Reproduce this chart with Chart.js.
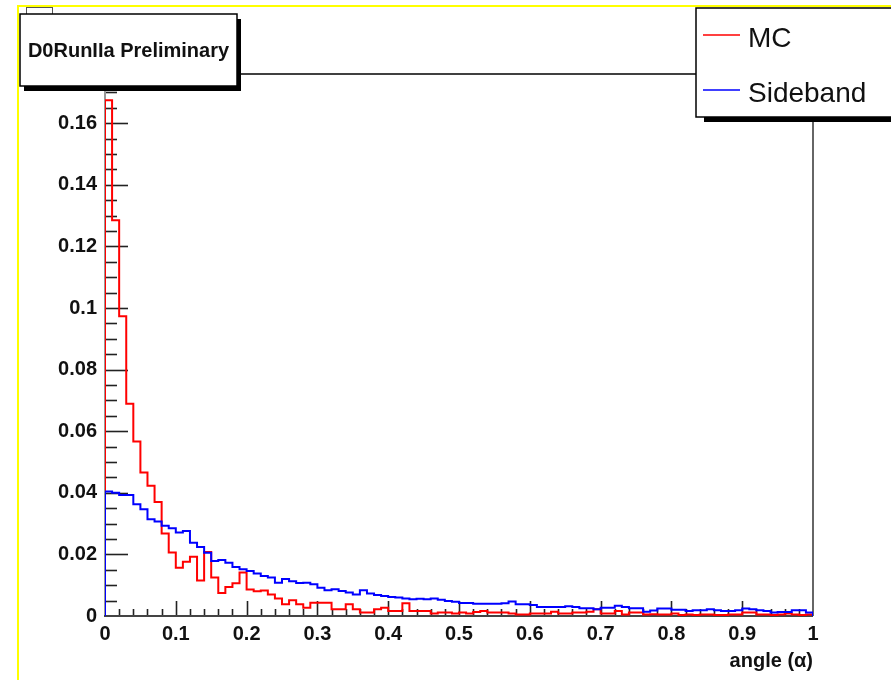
<!DOCTYPE html>
<html>
<head>
<meta charset="utf-8">
<title>angle (α) – MC vs Sideband</title>
<script src="https://cdn.jsdelivr.net/npm/chart.js@4.4.1/dist/chart.umd.min.js"></script>
<style>
  html, body { margin: 0; padding: 0; background: #fff; }
  #wrap { width: 891px; height: 680px; }
</style>
</head>
<body>
<div id="wrap"><canvas id="angleChart" width="891" height="680"></canvas></div>
<script>
// Histogram binning: 100 bins over [0, 1]
const xMin = 0, xMax = 1, binWidth = 0.01;
const yMax = 0.176;

// MC (red), one value per bin
const mcValues = [
  0.1675, 0.1285, 0.0973, 0.0689, 0.0567, 0.0466, 0.0423, 0.0370, 0.0268, 0.0206,
  0.0157, 0.0176, 0.0192, 0.0115, 0.0208, 0.0125, 0.0075, 0.0094, 0.0106, 0.0141,
  0.0086, 0.0080, 0.0083, 0.0070, 0.0057, 0.0038, 0.0051, 0.0038, 0.0027, 0.0043,
  0.0043, 0.0043, 0.0022, 0.0022, 0.0038, 0.0022, 0.0011, 0.0011, 0.0022, 0.0027,
  0.0016, 0.0016, 0.0041, 0.0016, 0.0016, 0.0016, 0.0008, 0.0011, 0.0011, 0.0008,
  0.0011, 0.0008, 0.0013, 0.0016, 0.0011, 0.0011, 0.0011, 0.0008, 0.0005, 0.0005,
  0.0008, 0.0008, 0.0008, 0.0014, 0.0008, 0.0008, 0.0011, 0.0011, 0.0014, 0.0022,
  0.0008, 0.0008, 0.0016, 0.0005, 0.0011, 0.0011, 0.0005, 0.0006, 0.0005, 0.0005,
  0.0008, 0.0003, 0.0005, 0.0003, 0.0005, 0.0005, 0.0003, 0.0003, 0.0005, 0.0005,
  0.0011, 0.0011, 0.0005, 0.0005, 0.0003, 0.0005, 0.0008, 0.0005, 0.0003, 0.0005
];

// Sideband (blue), one value per bin
const sidebandValues = [
  0.0404, 0.0400, 0.0393, 0.0393, 0.0363, 0.0347, 0.0314, 0.0307, 0.0293, 0.0285,
  0.0271, 0.0276, 0.0238, 0.0224, 0.0205, 0.0179, 0.0182, 0.0173, 0.0159, 0.0152,
  0.0146, 0.0138, 0.0130, 0.0125, 0.0108, 0.0120, 0.0113, 0.0107, 0.0108, 0.0103,
  0.0092, 0.0084, 0.0087, 0.0081, 0.0076, 0.0070, 0.0084, 0.0073, 0.0068, 0.0065,
  0.0062, 0.0060, 0.0057, 0.0054, 0.0056, 0.0054, 0.0057, 0.0053, 0.0049, 0.0046,
  0.0042, 0.0042, 0.0040, 0.0040, 0.0040, 0.0040, 0.0041, 0.0047, 0.0038, 0.0038,
  0.0036, 0.0029, 0.0029, 0.0029, 0.0029, 0.0032, 0.0029, 0.0025, 0.0025, 0.0022,
  0.0027, 0.0027, 0.0033, 0.0029, 0.0025, 0.0025, 0.0014, 0.0018, 0.0024, 0.0024,
  0.0020, 0.0020, 0.0016, 0.0019, 0.0019, 0.0022, 0.0019, 0.0016, 0.0016, 0.0019,
  0.0024, 0.0022, 0.0019, 0.0016, 0.0011, 0.0013, 0.0013, 0.0019, 0.0019, 0.0011
];

// Axis tick labels
const xTickValues = [0, 0.1, 0.2, 0.3, 0.4, 0.5, 0.6, 0.7, 0.8, 0.9, 1];
const xTickLabels = ['0', '0.1', '0.2', '0.3', '0.4', '0.5', '0.6', '0.7', '0.8', '0.9', '1'];
const yTickValues = [0, 0.02, 0.04, 0.06, 0.08, 0.1, 0.12, 0.14, 0.16];
const yTickLabels = ['0', '0.02', '0.04', '0.06', '0.08', '0.1', '0.12', '0.14', '0.16'];

const seriesNames = ['MC', 'Sideband'];
const seriesColors = ['#ff0000', '#0000ff'];
const boxTitle = 'D0RunIIa Preliminary';
const xTitle = 'angle (α)';

// turn bin contents into step points (left edges + closing edge)
function histPoints(values) {
  const pts = [{ x: xMin, y: 0 }];
  values.forEach((v, i) => pts.push({ x: xMin + i * binWidth, y: v }));
  pts.push({ x: xMax, y: values[values.length - 1] });
  pts.push({ x: xMax, y: 0 });
  return pts;
}

Chart.defaults.font.family = "'Liberation Sans', Arial, sans-serif";

// ROOT-like frame, inner ticks, title box and legend box
const rootFrame = {
  id: 'rootFrame',
  beforeDraw(chart) {
    const ctx = chart.ctx;
    ctx.save();
    ctx.fillStyle = '#fff';
    ctx.fillRect(0, 0, chart.width, chart.height);
    ctx.strokeStyle = '#ffff00';
    ctx.lineWidth = 2;
    ctx.beginPath();
    ctx.moveTo(18, chart.height); ctx.lineTo(18, 6); ctx.lineTo(chart.width, 6);
    ctx.stroke();
    ctx.restore();
  },
  beforeDatasetsDraw(chart) {
    const { ctx, chartArea: a, scales: { x, y } } = chart;
    ctx.save();
    // frame top/right
    ctx.strokeStyle = '#000';
    ctx.lineWidth = 1.5;
    ctx.beginPath();
    ctx.moveTo(a.left, a.top); ctx.lineTo(a.right, a.top);
    ctx.stroke();
    ctx.strokeStyle = '#333';
    ctx.beginPath();
    ctx.moveTo(a.right, a.top); ctx.lineTo(a.right, a.bottom);
    ctx.stroke();
    // y ticks (inside)
    ctx.strokeStyle = '#222';
    ctx.lineWidth = 1.6;
    for (let k = 1; k * 0.005 < yMax; k++) {
      const py = Math.round(y.getPixelForValue(k * 0.005)) + 0.5;
      const len = k % 4 === 0 ? 23 : 12;
      ctx.beginPath(); ctx.moveTo(a.left, py); ctx.lineTo(a.left + len, py); ctx.stroke();
    }
    // x ticks (inside)
    for (let k = 1; k < 50; k++) {
      const px = Math.round(x.getPixelForValue(k * 0.02)) + 0.5;
      const len = k % 5 === 0 ? 15 : 7;
      ctx.beginPath(); ctx.moveTo(px, a.bottom); ctx.lineTo(px, a.bottom - len); ctx.stroke();
    }
    // axis lines
    ctx.strokeStyle = '#999';
    ctx.lineWidth = 2;
    ctx.beginPath(); ctx.moveTo(a.left, a.top); ctx.lineTo(a.left, a.bottom); ctx.stroke();
    ctx.strokeStyle = '#444';
    ctx.beginPath(); ctx.moveTo(a.left - 1, a.bottom); ctx.lineTo(a.right, a.bottom); ctx.stroke();
    ctx.restore();
  },
  afterDraw(chart) {
    const ctx = chart.ctx;
    ctx.save();
    // title box with shadow
    ctx.fillStyle = '#fff';
    ctx.strokeStyle = '#555';
    ctx.lineWidth = 1;
    ctx.fillRect(26, 7, 26, 7);
    ctx.strokeRect(26.5, 7.5, 26, 7);
    ctx.fillStyle = '#000';
    ctx.fillRect(24, 19, 217, 72);
    ctx.fillStyle = '#fff';
    ctx.fillRect(20, 14, 217, 72);
    ctx.strokeStyle = '#000';
    ctx.lineWidth = 1.5;
    ctx.strokeRect(20, 14, 217, 72);
    ctx.fillStyle = '#111';
    ctx.font = "bold 20px 'Liberation Sans', Arial, sans-serif";
    ctx.textAlign = 'center';
    ctx.textBaseline = 'alphabetic';
    ctx.fillText(boxTitle, 128.5, 57);

    // legend box with shadow
    ctx.fillStyle = '#000';
    ctx.fillRect(704, 13, 220, 109);
    ctx.fillStyle = '#fff';
    ctx.fillRect(696, 8, 220, 109);
    ctx.strokeStyle = '#000';
    ctx.lineWidth = 1.5;
    ctx.strokeRect(696, 8, 220, 109);
    const rows = [35, 90];
    ctx.font = "28px 'Liberation Sans', Arial, sans-serif";
    ctx.textAlign = 'left';
    rows.forEach((ry, i) => {
      ctx.strokeStyle = seriesColors[i];
      ctx.lineWidth = 1.5;
      ctx.beginPath(); ctx.moveTo(703, ry); ctx.lineTo(740, ry); ctx.stroke();
      ctx.fillStyle = '#111';
      ctx.fillText(seriesNames[i], 748, ry + 12);
    });
    ctx.restore();
  }
};

const ctx = document.getElementById('angleChart').getContext('2d');
const angleChart = new Chart(ctx, {
  type: 'line',
  data: {
    datasets: [
      {
        label: seriesNames[1],
        data: histPoints(sidebandValues),
        borderColor: seriesColors[1],
        borderWidth: 2,
        stepped: true,
        pointRadius: 0,
        fill: false,
        order: 0
      },
      {
        label: seriesNames[0],
        data: histPoints(mcValues),
        borderColor: seriesColors[0],
        borderWidth: 2,
        stepped: true,
        pointRadius: 0,
        fill: false,
        order: 1
      }
    ]
  },
  options: {
    responsive: false,
    animation: false,
    parsing: false,
    layout: { padding: { top: 74, right: 78, left: 0, bottom: 0 } },
    plugins: {
      legend: { display: false },
      tooltip: { enabled: false },
      title: { display: false }
    },
    scales: {
      x: {
        type: 'linear',
        min: xMin,
        max: xMax,
        afterBuildTicks: s => { s.ticks = xTickValues.map(v => ({ value: v })); },
        afterFit: s => { s.height = 64; },
        grid: { display: false, drawTicks: false, tickLength: 0 },
        border: { display: false },
        ticks: {
          autoSkip: false,
          maxRotation: 0,
          padding: 6,
          color: '#111',
          font: { size: 20, weight: 'bold' },
          callback: (v, i) => xTickLabels[i]
        },
        title: {
          display: true,
          text: xTitle,
          align: 'end',
          color: '#111',
          font: { size: 20, weight: 'bold' },
          padding: { top: 0, bottom: 7 }
        }
      },
      y: {
        type: 'linear',
        min: 0,
        max: yMax,
        afterBuildTicks: s => { s.ticks = yTickValues.map(v => ({ value: v })); },
        afterFit: s => { s.width = 105; },
        grid: { display: false, drawTicks: false, tickLength: 0 },
        border: { display: false },
        ticks: {
          autoSkip: false,
          padding: 8,
          color: '#111',
          font: { size: 20, weight: 'bold' },
          callback: (v, i) => yTickLabels[i]
        }
      }
    }
  },
  plugins: [rootFrame]
});
</script>
</body>
</html>
